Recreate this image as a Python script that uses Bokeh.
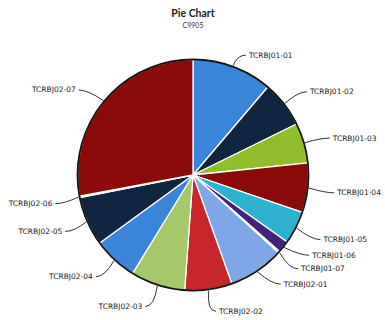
import numpy as np
from bokeh.plotting import figure
from bokeh.models import Range1d, ColumnDataSource
from bokeh.core.properties import value
from bokeh.embed import file_html
from bokeh.resources import INLINE

# ---- data ----
title_text = "Pie Chart"
subtitle_text = "C9905"
labels = ["TCRBJ01-01", "TCRBJ01-02", "TCRBJ01-03", "TCRBJ01-04", "TCRBJ01-05",
          "TCRBJ01-06", "TCRBJ01-07", "TCRBJ02-01", "TCRBJ02-02", "TCRBJ02-03",
          "TCRBJ02-04", "TCRBJ02-05", "TCRBJ02-06", "TCRBJ02-07"]
shares = [11.2, 6.5, 5.6, 6.9, 4.6, 1.7, 0.2, 7.8, 6.6, 7.6, 6.2, 6.9, 0.2, 27.9]
colors = ["#3a84da", "#0f2540", "#8fbe2a", "#8b0a0a", "#2eb2cf", "#3f2479", "#0a0a0a",
          "#7fa6e6", "#c8262a", "#a4c86a", "#3a84da", "#0f2540", "#e8e8e8", "#8b0a0a"]

# ---- layout adjustments for label placement (pixels) ----
nudge_x = [-2, 0, 0, 0, 0, 3, -3, 5, -4, 2, 2, 3, 2, -3]
nudge_y = [5, -1.5, 0, 3, 4, -2.5, 5, -1.5, 4.5, 5, 4, 3, 3.5, 0]

W, H = 385, 320
p = figure(width=W, height=H, x_range=Range1d(0, W), y_range=Range1d(-H, 0),
           output_backend="svg", toolbar_location=None, min_border=0,
           x_axis_location=None, y_axis_location=None)
p.grid.visible = False
p.outline_line_color = None
p.background_fill_color = "white"

cx, cy, R = 192.5, -174.5, 115.5
vals = np.array(shares, dtype=float)
frac = vals / vals.sum()
cum = np.concatenate([[0.0], np.cumsum(frac)]) * 2 * np.pi
start = np.pi / 2 - cum[:-1]
end = np.pi / 2 - cum[1:]

src = ColumnDataSource(dict(start=start, end=end, color=colors, label=labels))
p.wedge(x=cx, y=cy, radius=R, start_angle="start", end_angle="end", direction="clock",
        fill_color="color", line_color="white", line_width=1.3, source=src)
p.circle(x=cx, y=cy, radius=R, fill_color=None, line_color="#151515", line_width=1.8)

# leaders and labels
mid = (cum[:-1] + cum[1:]) / 2
side = np.where(np.sin(mid) >= 0, 1.0, -1.0)
r_bend = 133.0
x0 = cx + (R + 1) * np.sin(mid)
y0 = cy + (R + 1) * np.cos(mid)
xb = cx + r_bend * np.sin(mid) + np.array(nudge_x)
yb = cy + r_bend * np.cos(mid) - np.array(nudge_y)
xe = xb + 9 * side
ye = yb
p.quadratic(x0=x0, y0=y0, x1=xe, y1=ye, cx=xb, cy=yb, line_color="#333", line_width=1)

xt = xe + 3 * side
right = side > 0
lab = np.array(labels)
p.text(x=xt[right], y=ye[right], text=list(lab[right]), text_align="left",
       text_baseline="middle", text_font=value("DejaVu Sans"), text_font_size="7.5px",
       text_color="#222222")
p.text(x=xt[~right], y=ye[~right], text=list(lab[~right]), text_align="right",
       text_baseline="middle", text_font=value("DejaVu Sans"), text_font_size="7.5px",
       text_color="#222222")

p.text(x=[cx], y=[-12], text=[title_text], text_align="center", text_baseline="middle",
       text_font=value("Lato"), text_font_style="bold",
       text_font_size="10.5px", text_color="#222222")
p.text(x=[cx], y=[-24], text=[subtitle_text], text_align="center", text_baseline="middle",
       text_font=value("Lato"), text_font_size="7px",
       text_color="#333333")

open("out.html", "w").write(file_html(p, INLINE))
